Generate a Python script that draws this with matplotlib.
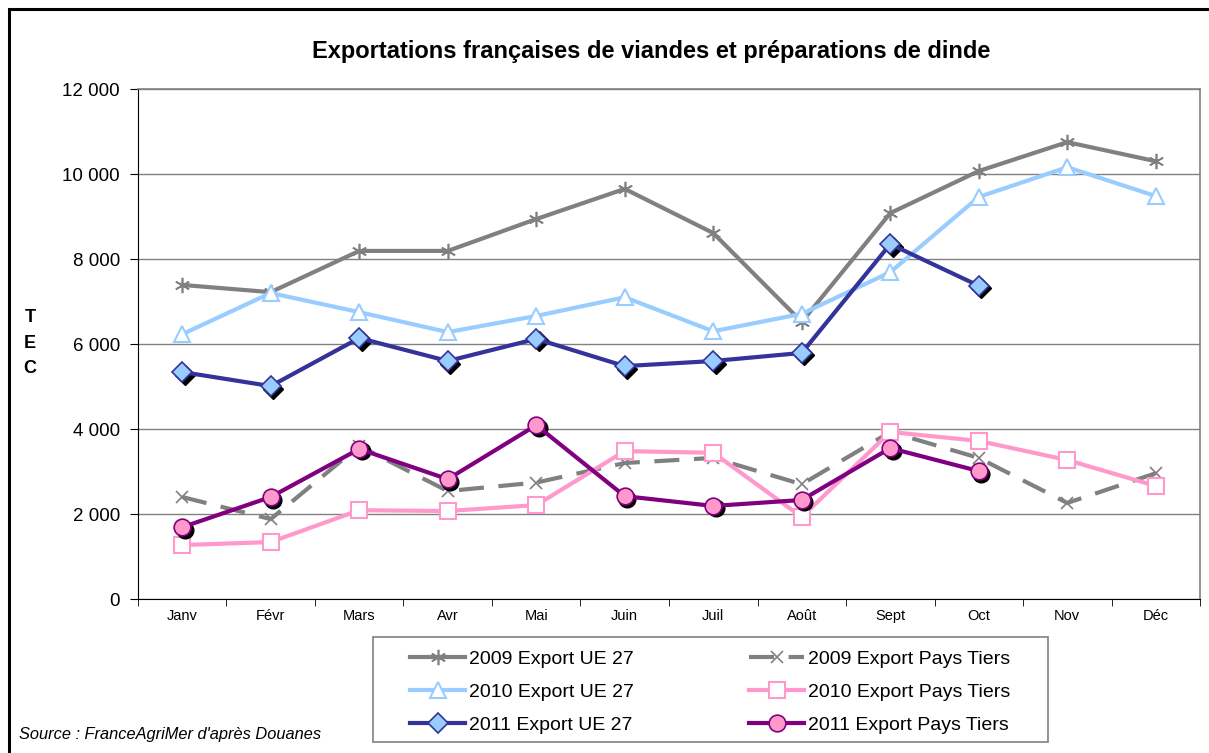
import matplotlib.pyplot as plt
from matplotlib.patches import Rectangle
from matplotlib.ticker import FuncFormatter, FixedLocator
from matplotlib.transforms import offset_copy

plt.rcParams['font.family'] = ['Liberation Sans', 'DejaVu Sans']

mois = ["Janv", "Févr", "Mars", "Avr", "Mai", "Juin", "Juil", "Août", "Sept", "Oct", "Nov", "Déc"]

ue_2009 = [7390, 7220, 8190, 8190, 8940, 9650, 8610, 6520, 9080, 10070, 10750, 10300]
ue_2010 = [6230, 7200, 6750, 6280, 6660, 7100, 6300, 6710, 7690, 9460, 10160, 9480]
ue_2011 = [5340, 5010, 6140, 5600, 6120, 5480, 5600, 5790, 8350, 7370]
pt_2009 = [2400, 1880, 3600, 2540, 2740, 3200, 3320, 2700, 3930, 3320, 2260, 2960]
pt_2010 = [1270, 1340, 2090, 2070, 2210, 3480, 3440, 1930, 3930, 3720, 3270, 2660]
pt_2011 = [1690, 2400, 3530, 2820, 4090, 2420, 2190, 2330, 3550, 3010]

fig = plt.figure(figsize=(12.09, 7.53), dpi=100)
ax = fig.add_axes([0.1141, 0.2045, 0.8785, 0.6773])

x12 = list(range(12))
x10 = list(range(10))

gris = "#808080"
bleu_clair = "#99CCFF"
rose = "#FF99CC"
bleu = "#333399"
violet = "#800080"

l1, = ax.plot(x12, ue_2009, color=gris, lw=3, marker=(6, 2, 0), ms=11, mew=1.2,
              label="2009 Export UE 27", zorder=3)
l4, = ax.plot(x12, pt_2009, color=gris, lw=3, dashes=(6, 3.5), marker="x", ms=9, mew=1.2,
              label="2009 Export Pays Tiers", zorder=3)
l2, = ax.plot(x12, ue_2010, color=bleu_clair, lw=3, marker="^", ms=11, mfc="white",
              mec=bleu_clair, mew=1.5, label="2010 Export UE 27", zorder=3)
l5, = ax.plot(x12, pt_2010, color=rose, lw=3, marker="s", ms=11, mfc="white",
              mec=rose, mew=1.5, label="2010 Export Pays Tiers", zorder=3)

# ombres des marqueurs 2011
ombre = offset_copy(ax.transData, fig=fig, x=2.5, y=-2.5, units="dots")
ax.plot(x10, ue_2011, ls="none", marker="D", ms=10, color="black", transform=ombre, zorder=4)
ax.plot(x10, pt_2011, ls="none", marker="o", ms=12, color="black", transform=ombre, zorder=4)

l3, = ax.plot(x10, ue_2011, color=bleu, lw=3, marker="D", ms=10, mfc=bleu_clair,
              mec=bleu, mew=1.2, label="2011 Export UE 27", zorder=5)
l6, = ax.plot(x10, pt_2011, color=violet, lw=3, marker="o", ms=12, mfc=rose,
              mec=violet, mew=1.2, label="2011 Export Pays Tiers", zorder=5)

ax.set_xlim(-0.5, 11.5)
ax.set_ylim(0, 12000)
ax.set_yticks(range(0, 12001, 2000))
ax.yaxis.set_major_formatter(FuncFormatter(lambda v, p: f"{int(v):,}".replace(",", " ")))
ax.tick_params(axis="y", labelsize=13.5, length=6, direction="out", pad=7)

ax.set_xticks(x12)
ax.set_xticklabels(mois, fontsize=10.5)
ax.tick_params(axis="x", which="major", length=0, pad=7)
ax.xaxis.set_minor_locator(FixedLocator([i - 0.5 for i in range(13)]))
ax.tick_params(axis="x", which="minor", length=5, direction="out")

ax.grid(axis="y", color=gris, lw=1)
ax.set_axisbelow(True)
ax.spines["top"].set_color(gris)
ax.spines["right"].set_color(gris)
ax.spines["top"].set_linewidth(1.2)
ax.spines["right"].set_linewidth(1.2)

fig.text(0.539, 0.931, "Exportations françaises de viandes et préparations de dinde",
         ha="center", va="center", fontsize=17, fontweight="bold")
fig.text(0.025, 0.544, "T\nE\nC", ha="center", va="center", fontsize=13,
         fontweight="bold", linespacing=1.65)
fig.text(0.016, 0.024, "Source : FranceAgriMer d'après Douanes", ha="left", va="center",
         fontsize=11.8, style="italic")

# cadre de la légende dessiné à part
fig.patches.append(Rectangle((373 / 1209, 11 / 753), 675 / 1209, 105 / 753,
                             transform=fig.transFigure, fill=False, lw=1.2, edgecolor=gris))
leg = fig.legend(handles=[l1, l2, l3, l4, l5, l6], ncol=2, loc="upper left",
                 bbox_to_anchor=(410 / 1209, 1 - 650 / 753), frameon=False,
                 fontsize=14, handlelength=2.85, handletextpad=0.2, borderpad=0,
                 borderaxespad=0, labelspacing=0.8, columnspacing=5.9)

fig.patches.append(Rectangle((0.0075, -0.05), 1.2, 1.05 - 9 / 753, transform=fig.transFigure,
                             fill=False, lw=2.2, edgecolor="black"))

fig.savefig("out.png", dpi=100)
